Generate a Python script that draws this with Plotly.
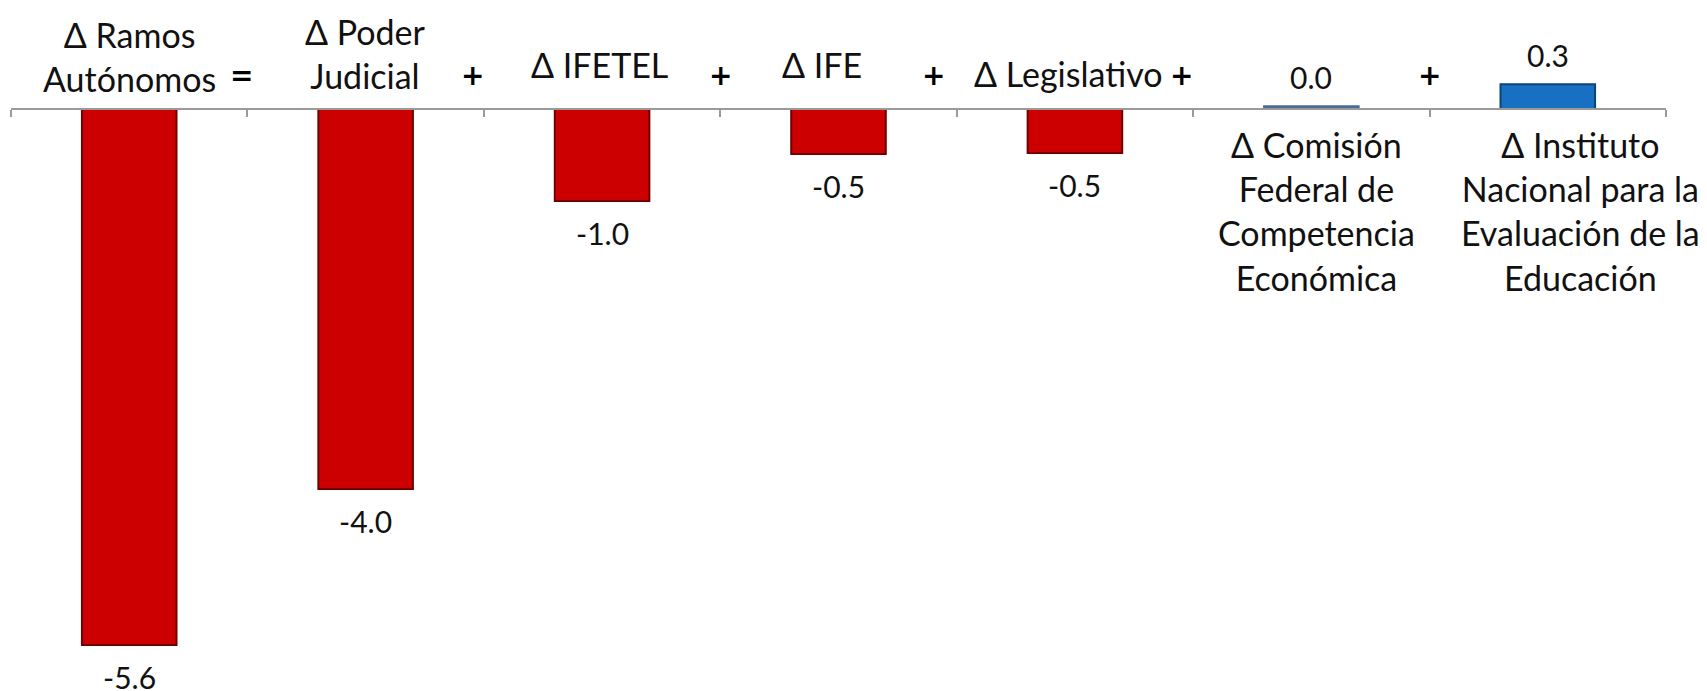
import plotly.graph_objects as go

categories = [
    "Δ Ramos<br>Autónomos",
    "Δ Poder<br>Judicial",
    "Δ IFETEL",
    "Δ IFE",
    "Δ Legislativo",
    "Δ Comisión<br>Federal de<br>Competencia<br>Económica",
    "Δ Instituto<br>Nacional para la<br>Evaluación de la<br>Educación",
]
values = [-5.6, -3.97, -0.96, -0.47, -0.46, 0.03, 0.26]
operators = ["=", "+", "+", "+", "+", "+"]

# label placement (data-y of label centre) and x offsets in category units
label_y = [0.554, 0.58, 0.46, 0.46, 0.366, -1.066, -1.066]
label_dx = [0.0, 0.0, -0.01, -0.07, -0.03, 0.02, 0.14]
op_x = [0.475, 1.45, 2.5, 3.4, 4.45, 5.5]
op_y = 0.355

colors = ["#CC0000" if v < 0 else ("#4A6A9A" if v < 0.1 else "#1870C2") for v in values]
lines = ["#700000" if v < 0 else ("#4A6A9A" if v < 0.1 else "#0A4478") for v in values]

font_family = "Lato, 'Open Sans', sans-serif"

fig = go.Figure()
fig.add_trace(go.Bar(
    x=list(range(len(values))),
    y=values,
    width=0.40,
    marker=dict(color=colors, line=dict(color=lines, width=2)),
    hoverinfo="skip",
))

annotations = []
for i, (c, ly, dx) in enumerate(zip(categories, label_y, label_dx)):
    annotations.append(dict(
        x=i + dx, y=ly, xref="x", yref="y", text=c, showarrow=False,
        font=dict(family=font_family, size=34, color="#111111"),
        xanchor="center", yanchor="middle", align="center",
    ))
for i, v in enumerate(values):
    annotations.append(dict(
        x=i, y=v, xref="x", yref="y", text=f"{v:.1f}", showarrow=False,
        font=dict(family=font_family, size=30, color="#111111"),
        xanchor="center", yanchor="middle",
        yshift=-32 if v < 0 else 29,
    ))
for ox, op in zip(op_x, operators):
    annotations.append(dict(
        x=ox, y=op_y, xref="x", yref="y", text=f"<b>{op}</b>", showarrow=False,
        font=dict(family="'DejaVu Sans', sans-serif", size=28, color="#000000"),
        xanchor="center", yanchor="middle",
    ))

ymin, ymax = -6.08, 1.139
zero_pos = (0 - ymin) / (ymax - ymin)

fig.update_layout(
    width=1707, height=691,
    margin=dict(l=11, r=41, t=0, b=0),
    paper_bgcolor="white", plot_bgcolor="white",
    showlegend=False,
    annotations=annotations,
    xaxis=dict(
        type="linear", range=[-0.5, 6.5],
        showgrid=False, zeroline=False,
        showline=True, linecolor="#9A9A9A", linewidth=2,
        tickmode="array", tickvals=[-0.5 + k for k in range(8)],
        ticks="outside", ticklen=7, tickwidth=2, tickcolor="#9A9A9A",
        showticklabels=False,
        anchor="free", position=zero_pos,
    ),
    yaxis=dict(
        range=[ymin, ymax], visible=False, showgrid=False, zeroline=False,
    ),
)

fig.write_html(
    "out.html",
    config={"displayModeBar": False},
    post_script="document.body.style.margin='0px';document.body.style.overflow='hidden';",
)
